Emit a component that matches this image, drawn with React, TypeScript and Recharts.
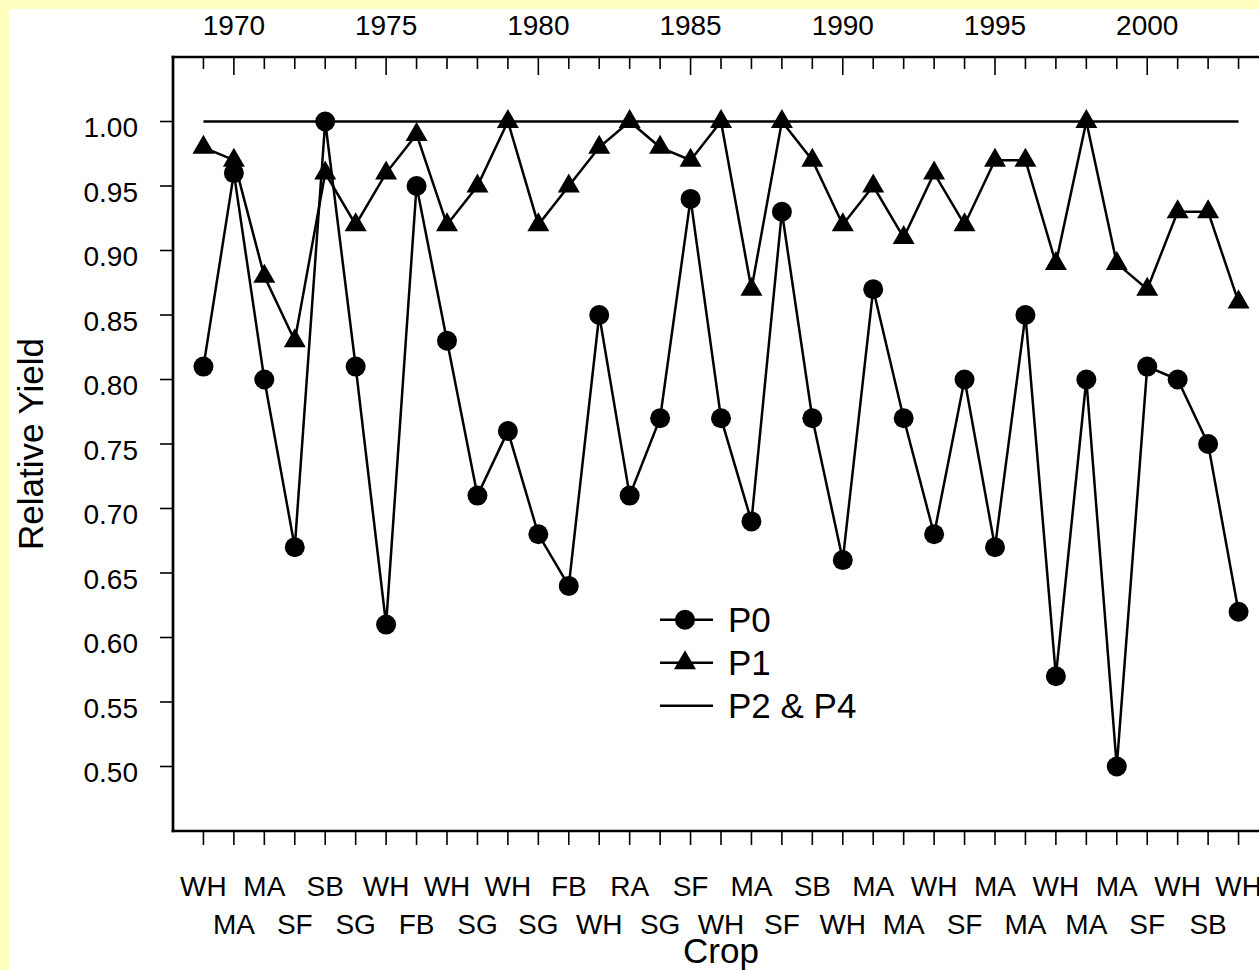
import { LineChart, Line, XAxis, YAxis, Legend } from "recharts";

const FONT = '"Liberation Sans", Arial, Helvetica, sans-serif';

const YEARS = [
  1969, 1970, 1971, 1972, 1973, 1974, 1975, 1976, 1977, 1978, 1979, 1980,
  1981, 1982, 1983, 1984, 1985, 1986, 1987, 1988, 1989, 1990, 1991, 1992,
  1993, 1994, 1995, 1996, 1997, 1998, 1999, 2000, 2001, 2002, 2003,
];
const YEAR_LABELS = [1970, 1975, 1980, 1985, 1990, 1995, 2000];
const CROPS = [
  "WH", "MA", "MA", "SF", "SB", "SG", "WH", "FB", "WH", "SG", "WH", "SG",
  "FB", "WH", "RA", "SG", "SF", "WH", "MA", "SF", "SB", "WH", "MA", "MA",
  "WH", "SF", "MA", "MA", "WH", "MA", "MA", "SF", "WH", "SB", "WH",
];
const P0 = [
  0.81, 0.96, 0.8, 0.67, 1.0, 0.81, 0.61, 0.95, 0.83, 0.71, 0.76, 0.68,
  0.64, 0.85, 0.71, 0.77, 0.94, 0.77, 0.69, 0.93, 0.77, 0.66, 0.87, 0.77,
  0.68, 0.8, 0.67, 0.85, 0.57, 0.8, 0.5, 0.81, 0.8, 0.75, 0.62,
];
const P1 = [
  0.98, 0.97, 0.88, 0.83, 0.96, 0.92, 0.96, 0.99, 0.92, 0.95, 1.0, 0.92,
  0.95, 0.98, 1.0, 0.98, 0.97, 1.0, 0.87, 1.0, 0.97, 0.92, 0.95, 0.91,
  0.96, 0.92, 0.97, 0.97, 0.89, 1.0, 0.89, 0.87, 0.93, 0.93, 0.86,
];
const P2_P4 = [
  1.0, 1.0, 1.0, 1.0, 1.0, 1.0, 1.0, 1.0, 1.0, 1.0, 1.0, 1.0,
  1.0, 1.0, 1.0, 1.0, 1.0, 1.0, 1.0, 1.0, 1.0, 1.0, 1.0, 1.0,
  1.0, 1.0, 1.0, 1.0, 1.0, 1.0, 1.0, 1.0, 1.0, 1.0, 1.0,
];
const Y_TICKS = [0.5, 0.55, 0.6, 0.65, 0.7, 0.75, 0.8, 0.85, 0.9, 0.95, 1.0];

const data = YEARS.map((year, i) => ({
  year,
  crop: CROPS[i],
  p0: P0[i],
  p1: P1[i],
  p24: P2_P4[i],
}));

const MARKERS: Record<string, string> = { P0: "circle", P1: "triangle", "P2 & P4": "none" };

const triPoints = (cx: number, cy: number) =>
  `${cx},${cy - 12.5} ${cx + 11},${cy + 6.5} ${cx - 11},${cy + 6.5}`;

const CircleDot = (props: any) => (
  <circle key={`c-${props.index}`} cx={props.cx} cy={props.cy} r={10} fill="#000" />
);
const TriangleDot = (props: any) => (
  <polygon key={`t-${props.index}`} points={triPoints(props.cx, props.cy)} fill="#000" />
);

const TopTick = ({ x, y, payload }: any) => {
  const major = YEAR_LABELS.includes(payload.value);
  return (
    <g>
      <line x1={x} x2={x} y1={y} y2={y + (major ? 18 : 12)} stroke="#000" strokeWidth={1.6} />
      {major && (
        <text x={x} y={y - 22} textAnchor="middle" fontSize={28} fontFamily={FONT} fill="#000">
          {payload.value}
        </text>
      )}
    </g>
  );
};

const BottomTick = ({ x, y, payload }: any) => {
  const i = YEARS.indexOf(payload.value);
  return (
    <g>
      <line x1={x} x2={x} y1={y} y2={y + 14} stroke="#000" strokeWidth={1.6} />
      <text
        x={x}
        y={y + (i % 2 === 0 ? 65 : 102.6)}
        textAnchor="middle"
        fontSize={28}
        fontFamily={FONT}
        fill="#000"
      >
        {CROPS[i]}
      </text>
    </g>
  );
};

const LeftTick = ({ x, y, payload }: any) => (
  <text x={x} y={y} dy={15.5} textAnchor="end" fontSize={28} fontFamily={FONT} fill="#000">
    {Number(payload.value).toFixed(2)}
  </text>
);

const YTitle = ({ viewBox }: any) => {
  const cx = viewBox.x + 34;
  const cy = viewBox.y + viewBox.height / 2;
  return (
    <text
      x={cx}
      y={cy}
      transform={`rotate(-90, ${cx}, ${cy})`}
      textAnchor="middle"
      fontSize={35}
      fontFamily={FONT}
      fill="#000"
    >
      Relative Yield
    </text>
  );
};

const XTitle = ({ viewBox }: any) => (
  <text
    x={viewBox.x + viewBox.width / 2}
    y={viewBox.y + 132}
    textAnchor="middle"
    fontSize={35}
    fontFamily={FONT}
    fill="#000"
  >
    Crop
  </text>
);

const renderLegend = (props: any) => {
  const { payload } = props;
  return (
    <div style={{ fontFamily: FONT, fontSize: 35, color: "#000" }}>
      {(payload || []).map((entry: any) => (
        <div
          key={entry.value}
          style={{ display: "flex", alignItems: "center", height: 43.4 }}
        >
          <svg width={53} height={43.4} style={{ display: "block" }}>
            <line x1={0} x2={53} y1={21.7} y2={21.7} stroke="#000" strokeWidth={2.5} />
            {MARKERS[entry.value] === "circle" && <circle cx={25} cy={21.7} r={10} fill="#000" />}
            {MARKERS[entry.value] === "triangle" && (
              <polygon points={triPoints(25, 21.7)} fill="#000" />
            )}
          </svg>
          <span style={{ marginLeft: 15, lineHeight: "43.4px", whiteSpace: "nowrap" }}>
            {entry.value}
          </span>
        </div>
      ))}
    </div>
  );
};

export default function App() {
  return (
    <div
      style={{
        position: "fixed",
        inset: 0,
        background: "#FFFFC0",
        overflow: "hidden",
      }}
    >
      <div
        style={{
          position: "absolute",
          left: 9,
          top: 9,
          right: 0,
          bottom: 0,
          background: "#fff",
          overflow: "hidden",
        }}
      >
        <LineChart
          width={1300}
          height={961}
          data={data}
          margin={{ top: 0, right: 40, bottom: 0, left: 0 }}
        >
          <XAxis
            xAxisId="top"
            orientation="top"
            dataKey="year"
            type="number"
            domain={[1968, 2004]}
            ticks={YEARS}
            interval={0}
            height={48}
            tickSize={0}
            tickMargin={0}
            tickLine={false}
            tick={<TopTick />}
            axisLine={{ stroke: "#000", strokeWidth: 2.7, strokeLinecap: "square" }}
          />
          <XAxis
            xAxisId="bottom"
            orientation="bottom"
            dataKey="year"
            type="number"
            domain={[1968, 2004]}
            ticks={YEARS}
            interval={0}
            height={139}
            tickSize={0}
            tickMargin={0}
            tickLine={false}
            tick={<BottomTick />}
            axisLine={{ stroke: "#000", strokeWidth: 2.7, strokeLinecap: "square" }}
            label={{ value: "Crop", content: XTitle }}
          />
          <YAxis
            type="number"
            domain={[0.45, 1.05]}
            ticks={Y_TICKS}
            interval={0}
            width={164}
            tickSize={13}
            tickMargin={22}
            tickLine={{ stroke: "#000", strokeWidth: 1.6 }}
            tick={<LeftTick />}
            axisLine={{ stroke: "#000", strokeWidth: 2.7, strokeLinecap: "square" }}
            label={{ value: "Relative Yield", content: YTitle }}
          />
          <Legend
            layout="horizontal"
            verticalAlign="middle"
            align="center"
            content={renderLegend}
            wrapperStyle={{ left: 651, top: 588.6, width: 260, height: 130.2 }}
          />
          <Line
            xAxisId="bottom"
            name="P0"
            dataKey="p0"
            type="linear"
            stroke="#000"
            strokeWidth={2.5}
            dot={CircleDot}
            activeDot={false}
            isAnimationActive={false}
          />
          <Line
            xAxisId="bottom"
            name="P1"
            dataKey="p1"
            type="linear"
            stroke="#000"
            strokeWidth={2.5}
            dot={TriangleDot}
            activeDot={false}
            isAnimationActive={false}
          />
          <Line
            xAxisId="bottom"
            name="P2 & P4"
            dataKey="p24"
            type="linear"
            stroke="#000"
            strokeWidth={2.5}
            dot={false}
            activeDot={false}
            isAnimationActive={false}
          />
        </LineChart>
      </div>
    </div>
  );
}
